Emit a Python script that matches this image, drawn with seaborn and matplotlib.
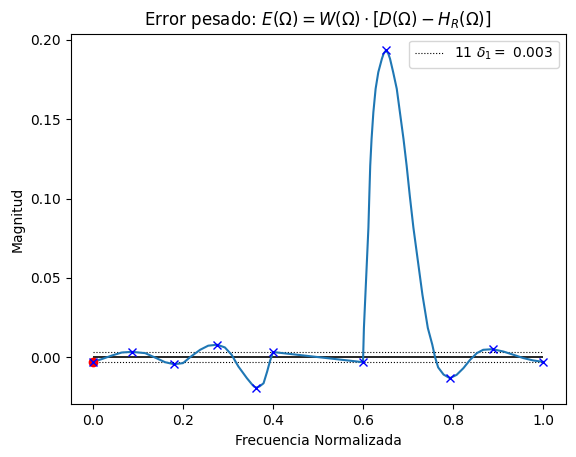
import numpy as np
import matplotlib
matplotlib.use("Agg")
import matplotlib.pyplot as plt
import seaborn as sns

# =========================================================
# DATA
# =========================================================
freq = [0.000, 0.019, 0.042, 0.064, 0.087, 0.116, 0.138, 0.160, 0.180, 0.200,
        0.216, 0.238, 0.256, 0.276, 0.293, 0.308, 0.323, 0.342, 0.353, 0.358,
        0.363, 0.370, 0.379, 0.387, 0.393, 0.400, 0.600, 0.602, 0.607, 0.612,
        0.614, 0.616, 0.619, 0.623, 0.628, 0.634, 0.642, 0.646, 0.651, 0.656,
        0.660, 0.667, 0.675, 0.682, 0.690, 0.697, 0.704, 0.712, 0.722, 0.732,
        0.744, 0.754, 0.760, 0.767, 0.779, 0.793, 0.808, 0.823, 0.838, 0.853,
        0.867, 0.888, 0.912, 0.934, 0.956, 0.978, 1.000]
error = [-0.0030, -0.0013, 0.0010, 0.0029, 0.0033, 0.0025, -0.0003, -0.0032, -0.0045, -0.0038,
         0.0000, 0.0046, 0.0072, 0.0078, 0.0061, 0.0015, -0.0059, -0.0133, -0.0171, -0.0186,
         -0.0192, -0.0185, -0.0165, -0.0091, -0.0028, 0.0032, -0.0032, 0.0184, 0.0500, 0.0816,
         0.1016, 0.1206, 0.1375, 0.1544, 0.1692, 0.1797, 0.1882, 0.1915, 0.1934, 0.1915,
         0.1882, 0.1797, 0.1692, 0.1544, 0.1375, 0.1206, 0.1016, 0.0816, 0.0605, 0.0394,
         0.0184, 0.0078, 0.0000, -0.0065, -0.0110, -0.0133, -0.0112, -0.0070, -0.0017, 0.0025,
         0.0046, 0.0050, 0.0035, 0.0015, -0.0006, -0.0021, -0.0030]

# extremal frequencies (x markers)
ext_freq = [0.000, 0.087, 0.180, 0.276, 0.363, 0.400, 0.600, 0.651, 0.793, 0.888, 1.000]
ext_error = [-0.0030, 0.0033, -0.0045, 0.0078, -0.0192, 0.0032, -0.0032, 0.1934, -0.0133, 0.0050, -0.0030]

n_ext = 11
delta_1 = 0.0032
delta_label = "0.003"

# =========================================================
# PLOT
# =========================================================
fig = plt.figure(figsize=(5.76, 4.57), dpi=100)
ax = fig.add_axes([0.1224, 0.1151, 0.8594, 0.8114])

ax.hlines([delta_1, -delta_1], 0, 1, colors="k", linestyles=":", linewidth=0.8,
          label=f"{n_ext} $\\delta_1 =$ {delta_label}")
ax.hlines(0, 0, 1, colors="k", linewidth=1.2)

sns.lineplot(x=freq, y=error, ax=ax, sort=False, color="C0", linewidth=1.5)

ax.plot(ext_freq[0], ext_error[0], "ro")
ax.plot(ext_freq, ext_error, "bx", linestyle="none")

ax.set_title("Error pesado: $E(\\Omega) = W(\\Omega) \\cdot [D(\\Omega) - H_R(\\Omega)]$")
ax.set_xlabel("Frecuencia Normalizada")
ax.set_ylabel("Magnitud")

handles, labels = ax.get_legend_handles_labels()
ax.legend(handles[:1], labels[:1], loc="upper right")

plt.savefig("out.png", dpi=100)
